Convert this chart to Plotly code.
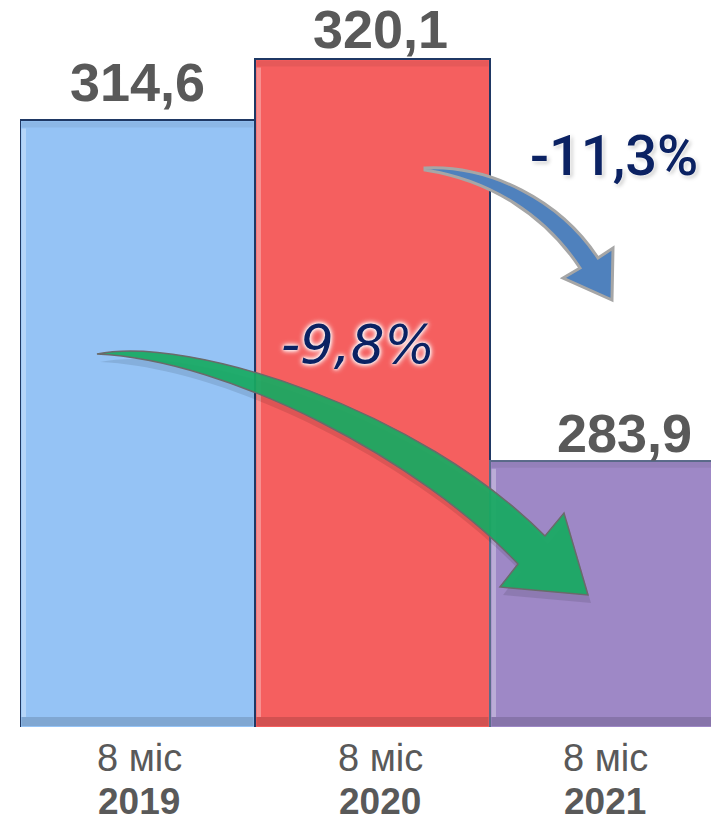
import plotly.graph_objects as go

# ---- data ----
periods = ["8 міс", "8 міс", "8 міс"]
years = ["2019", "2020", "2021"]
values = [314.6, 320.1, 283.9]
value_labels = ["314,6", "320,1", "283,9"]
change_labels = ["-11,3%", "-9,8%"]

# ---- styles ----
bar_colors = ["#95c3f5", "#f55f5f", "#9e88c6"]
bar_lines = ["#1f3864", "#1f3864", "#5b6b8a"]
label_xshift = [0, 8, 17]
label_yshift = [38, 30, 28]
cat_xshift = [1.5, 7.5, -2.5]

W, H = 711, 822
ML, MB = 20, 95
PW, PH = W - ML, H - MB
UNIT_X = 235.0          # pixels per category
Y0, Y1 = 259.9, 259.9 + PH / 11.09
XR = [-0.5, -0.5 + PW / UNIT_X]
PX_Y = PH / (Y1 - Y0)


def P(px, py):
    """pixel -> data coords (for decorative shapes)"""
    return (-0.5 + (px - ML) / UNIT_X, Y0 + (PH - py) / PX_Y)


def path(cmds):
    out = []
    for c in cmds:
        if c == "Z":
            out.append("Z")
            continue
        letter, pts = c[0], c[1:]
        s = letter
        for (px, py) in pts:
            x, y = P(px, py)
            s += f" {x:.5f},{y:.4f}"
        out.append(s)
    return " ".join(out)


x = list(range(len(values)))
fig = go.Figure()
fig.add_trace(go.Bar(
    x=x, y=values,
    marker=dict(color=bar_colors, line=dict(color=bar_lines, width=2)),
    width=1.0, hoverinfo="skip",
))

shapes = []
# bevel effect on bars
for i, v in enumerate(values):
    x0, x1 = i - 0.5, i + 0.5
    shapes.append(dict(type="rect", xref="x", yref="y", x0=x0 + 1.5 / UNIT_X, x1=x0 + 6 / UNIT_X,
                       y0=Y0 + 10 / PX_Y, y1=v - 8 / PX_Y, fillcolor="rgba(255,255,255,0.30)",
                       line=dict(width=0), layer="above"))
    shapes.append(dict(type="rect", xref="x", yref="y", x0=x0 + 1.5 / UNIT_X, x1=x1 - 1.5 / UNIT_X,
                       y0=Y0 + 1 / PX_Y, y1=Y0 + 10 / PX_Y, fillcolor="rgba(0,0,0,0.14)",
                       line=dict(width=0), layer="above"))
    shapes.append(dict(type="rect", xref="x", yref="y", x0=x0 + 1.5 / UNIT_X, x1=x1 - 1.5 / UNIT_X,
                       y0=v - 7 / PX_Y, y1=v - 1 / PX_Y, fillcolor="rgba(0,0,0,0.06)",
                       line=dict(width=0), layer="above"))

# green arrow shadow + arrow
green = [
    ("M", (97, 354)),
    ("C", (190, 335), (420, 410), (545, 536)),
    ("L", (564, 513)), ("L", (588, 595)), ("L", (500, 587)), ("L", (518, 564)),
    ("C", (420, 460), (230, 360), (97, 354)),
    "Z",
]
green_shadow = [c if c == "Z" else (c[0],) + tuple((p[0] + 3, p[1] + 8) for p in c[1:]) for c in green]
shapes.append(dict(type="path", xref="x", yref="y", path=path(green_shadow),
                   fillcolor="rgba(0,0,0,0.10)", line=dict(width=0), layer="above"))
shapes.append(dict(type="path", xref="x", yref="y", path=path(green),
                   fillcolor="rgba(24,170,98,0.93)", line=dict(color="#6a6a6a", width=1.5), layer="above"))

# blue arrow
blue = [
    ("M", (425, 168)),
    ("C", (490, 165), (560, 200), (598, 258)),
    ("L", (613, 248)), ("L", (612, 300)), ("L", (563, 278)), ("L", (580, 268)),
    ("C", (545, 215), (490, 180), (425, 170)),
    "Z",
]
shapes.append(dict(type="path", xref="x", yref="y", path=path(blue),
                   fillcolor="#4f81bd", line=dict(color="#a6a6a6", width=3), layer="above"))

annotations = []
for i, (v, t) in enumerate(zip(values, value_labels)):
    annotations.append(dict(x=i, y=v, xref="x", yref="y", text=f"<b>{t}</b>", showarrow=False,
                            xanchor="center", yanchor="middle",
                            xshift=label_xshift[i], yshift=label_yshift[i],
                            font=dict(family="Liberation Sans", size=54, color="#595959")))
for i, (p, yr) in enumerate(zip(periods, years)):
    annotations.append(dict(x=i, y=0, xref="x", yref="paper", text=p, showarrow=False,
                            xanchor="center", yanchor="middle", xshift=cat_xshift[i], yshift=-31,
                            font=dict(family="Liberation Sans", size=38, color="#595959")))
    annotations.append(dict(x=i, y=0, xref="x", yref="paper", text=f"<b>{yr}</b>", showarrow=False,
                            xanchor="center", yanchor="middle", xshift=cat_xshift[i], yshift=-74,
                            font=dict(family="Liberation Sans", size=37, color="#595959")))


def pp(px, py):
    return ((px - ML) / PW, (PH - py) / PH)


ax, ay = pp(614, 156)
annotations.append(dict(x=ax, y=ay, xref="paper", yref="paper", text=change_labels[0], showarrow=False,
                        xanchor="center", yanchor="middle",
                        font=dict(family="Roboto", size=56, weight=500, color="#0b2263",
                                  shadow="0px 0px 5px white, 0px 0px 3px white, 2px 2px 4px #bbbbbb")))
ax, ay = pp(358, 344)
annotations.append(dict(x=ax, y=ay, xref="paper", yref="paper", text=change_labels[1], showarrow=False,
                        xanchor="center", yanchor="middle",
                        font=dict(family="DejaVu Sans", size=53, style="italic", color="#0b2263",
                                  shadow="0px 0px 5px white, 0px 0px 3px white, 0px 0px 6px white")))

fig.update_layout(
    width=W, height=H,
    margin=dict(l=ML, r=0, t=0, b=MB, pad=0),
    paper_bgcolor="white", plot_bgcolor="white",
    showlegend=False, bargap=0,
    xaxis=dict(range=XR, visible=False, fixedrange=True),
    yaxis=dict(range=[Y0, Y1], visible=False, fixedrange=True),
    shapes=shapes, annotations=annotations,
)
fig.write_html("out.html", config={"displayModeBar": False},
               post_script="document.body.style.margin='0px';")
